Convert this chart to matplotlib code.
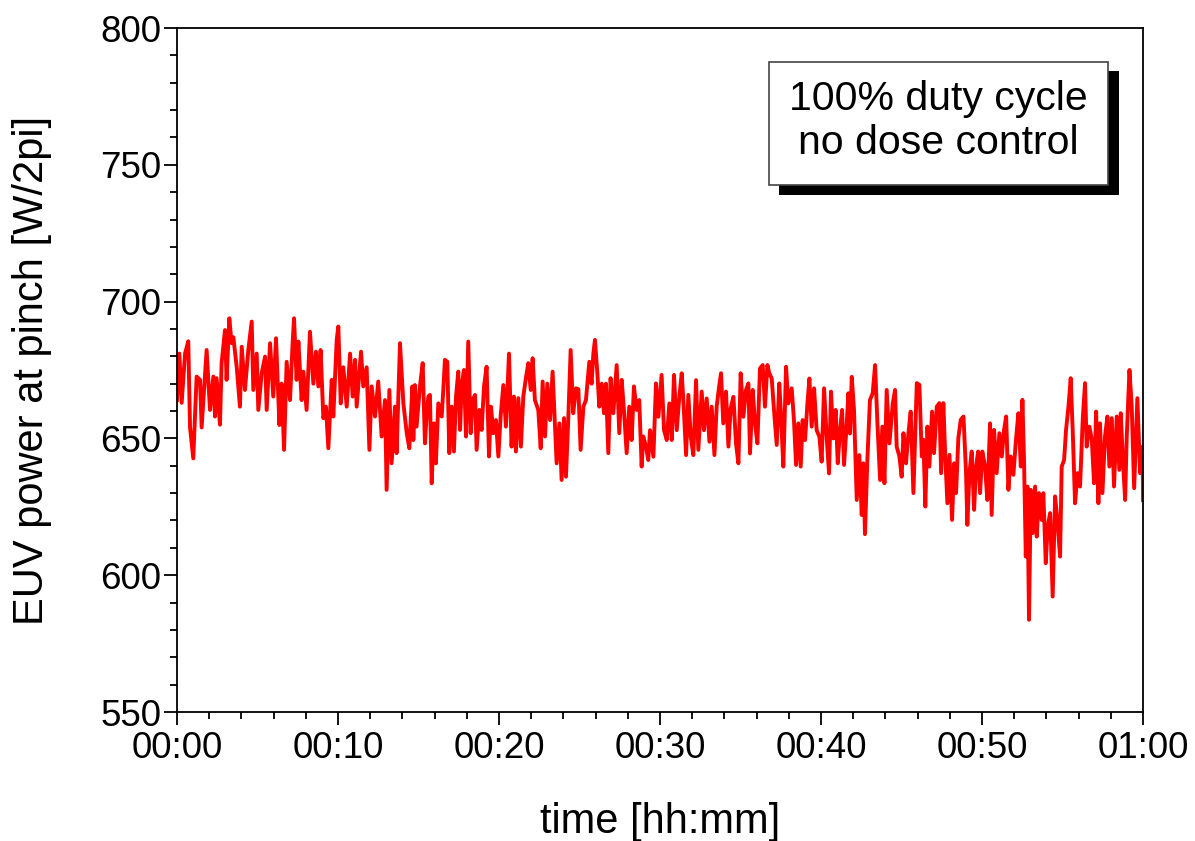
import matplotlib
matplotlib.use("Agg")
import matplotlib.pyplot as plt
from matplotlib.patches import Rectangle
from matplotlib.ticker import MultipleLocator

# ---- data (time in minutes, EUV power in W/2pi) ----
time_min = [
    0.0, 0.145, 0.29, 0.50, 0.70, 0.81, 1.01, 1.22, 1.43, 1.53, 1.84, 2.05, 2.26, 2.36, 2.46,
    2.67, 2.77, 2.98, 3.08, 3.25, 3.39, 3.50, 3.71, 3.91, 4.02, 4.22, 4.43, 4.64, 4.74, 4.95,
    5.05, 5.26, 5.47, 5.57, 5.78, 5.98, 6.15, 6.36, 6.50, 6.65, 6.81, 7.02, 7.18, 7.27, 7.43,
    7.54, 7.74, 7.85, 8.05, 8.26, 8.47, 8.63, 8.78, 8.92, 9.09, 9.25, 9.40, 9.61, 9.71, 9.92,
    10.02, 10.17, 10.33, 10.54, 10.75, 10.91, 11.06, 11.16, 11.43, 11.57, 11.78, 11.95, 12.09,
    12.30, 12.50, 12.71, 12.92, 13.02, 13.19, 13.33, 13.54, 13.64, 13.85, 14.06, 14.27, 14.43,
    14.62, 14.68, 14.78, 14.88, 15.09, 15.26, 15.40, 15.50, 15.61, 15.71, 15.82, 15.96, 16.08,
    16.23, 16.44, 16.54, 16.64, 16.79, 16.91, 17.06, 17.20, 17.33, 17.47, 17.58, 17.68, 17.82,
    17.95, 18.09, 18.24, 18.36, 18.51, 18.61, 18.78, 18.92, 19.07, 19.23, 19.38, 19.50, 19.65,
    19.81, 19.96, 20.10, 20.27, 20.43, 20.62, 20.78, 20.93, 21.05, 21.20, 21.36, 21.51, 21.67,
    21.82, 21.97, 22.09, 22.23, 22.44, 22.59, 22.71, 22.86, 23.00, 23.17, 23.33, 23.48, 23.58,
    23.75, 23.89, 24.04, 24.16, 24.30, 24.45, 24.61, 24.78, 24.93, 25.07, 25.24, 25.40, 25.61,
    25.75, 25.86, 25.96, 26.11, 26.23, 26.38, 26.52, 26.64, 26.79, 26.93, 27.10, 27.31, 27.47,
    27.62, 27.76, 27.93, 28.09, 28.24, 28.38, 28.55, 28.71, 28.86, 28.96, 29.13, 29.27,
    29.38, 29.59, 29.75, 29.90, 30.10, 30.25, 30.42, 30.58, 30.73, 30.87, 31.04, 31.20, 31.35,
    31.45, 31.62, 31.76, 31.91, 32.07, 32.24, 32.38, 32.59, 32.73, 32.90, 33.07, 33.21, 33.38,
    33.52, 33.67, 33.79, 33.93, 34.10, 34.25, 34.39, 34.56, 34.72, 34.87, 35.01, 35.18, 35.34,
    35.49, 35.59, 35.76, 35.90, 36.05, 36.21, 36.38, 36.52, 36.67, 36.79, 36.94, 37.08, 37.25,
    37.41, 37.52, 37.66, 37.83, 37.97, 38.18, 38.32, 38.45, 38.59, 38.74, 38.86, 39.01, 39.15,
    39.28, 39.42, 39.57, 39.73, 39.90, 40.04, 40.19, 40.35, 40.50, 40.62, 40.77, 40.91, 41.04,
    41.18, 41.31, 41.43, 41.60, 41.70, 41.80, 41.91, 42.05, 42.22, 42.38, 42.53, 42.63, 42.73,
    42.88, 43.04, 43.21, 43.36, 43.50, 43.67, 43.81, 43.94, 44.08, 44.25,
    44.46, 44.60, 44.70, 44.87, 45.01, 45.12, 45.28, 45.43, 45.57, 45.74, 45.84, 45.95, 46.11,
    46.26, 46.36, 46.48, 46.61, 46.73, 46.90, 47.02, 47.19, 47.35, 47.46, 47.60, 47.71, 47.85,
    47.98, 48.14, 48.27, 48.39, 48.53, 48.68, 48.85, 49.01, 49.09, 49.22, 49.36, 49.51, 49.63,
    49.76, 49.88, 50.02, 50.19, 50.33, 50.50, 50.60, 50.75, 50.91, 51.08, 51.23, 51.37, 51.50,
    51.64, 51.78, 51.95, 52.11, 52.26, 52.41, 52.51, 52.61, 52.72, 52.82, 52.92, 53.03, 53.15,
    53.30, 53.40, 53.54, 53.71, 53.81, 53.96, 54.08, 54.23, 54.39, 54.54, 54.68, 54.85, 54.95,
    55.10, 55.22, 55.37, 55.51, 55.64, 55.78, 55.93, 56.09, 56.26, 56.40, 56.50, 56.67, 56.82,
    56.96, 57.09, 57.23, 57.33, 57.48, 57.64, 57.79, 57.91, 58.06, 58.20, 58.37, 58.53, 58.62,
    58.74, 58.89, 58.99, 59.16, 59.30, 59.45, 59.65, 59.82, 59.98, 60.0,
]
power = [
    664, 681, 663, 681, 685.5, 654, 642.7, 672.6, 671.4, 654, 682.3, 660.4, 672.6, 658, 672,
    655, 677.5, 689.6, 671.4, 693.9, 684.8, 687, 676, 661.6, 683.5, 667.7, 682.3, 692.7, 667.7, 681,
    660.4, 673.8, 679.9, 660.4, 684.8, 665.3, 686.6, 654.9, 670, 645.8, 678, 664, 684.8, 693.9, 671.4,
    685.4, 664, 674.4, 660.4, 689, 670, 681.7, 669, 682.3, 657.4, 661.6, 646.4, 671.4, 658, 686,
    690.9, 662.8, 676, 661.6, 681, 665.3, 678.7, 661.6, 681.7, 669, 676, 645.8, 669,
    658, 670.8, 650.7, 664, 631.2, 667.7, 640.9, 661.6, 644.6, 684.8, 662.8, 651.9, 646.4,
    669, 649.4, 669.5, 654.3, 669, 677.5, 648.2, 658, 665.3, 665.9, 633.6, 655.5, 640.9,
    662.8, 658, 667.7, 678.7, 678, 644.6, 661.6, 645.2, 665.3, 674.4, 653.1, 669, 675,
    650.7, 685.4, 651.9, 664, 665.9, 645.8, 660.4, 653.1, 669, 676.2, 643.4, 661.6, 651.9,
    656.7, 643.4, 658, 669.5, 654.3, 681, 647, 665.3, 645.2, 664.7, 647, 665.3, 672,
    677.5, 667.7, 679.3, 664, 660.4, 646.4, 670.8, 650.7, 670, 656.7, 674.4, 654.3, 640.9,
    655.5, 634.8, 657.4, 636, 656.7, 682.3, 659.2, 668.3, 668, 645.8, 661.6, 664, 678,
    670, 681, 686, 673.8, 661.6, 670, 659.2, 670, 644.6, 672, 659.2, 676.8, 651.9,
    671.4, 660.4, 644.6, 661.6, 649.4, 669, 660.4, 664, 639.7, 650.7, 647, 642.1,
    653, 643.3, 670.1, 657.9, 673.2, 653, 649.4, 662.8, 649.4, 673.2, 653, 665.2, 673.8,
    664, 643.9, 665.9, 650.6, 643.9, 671.3, 645.8, 667.1, 653, 664.6, 648.8, 661.6, 643.9,
    661.6, 668.9, 673.8, 655.5, 667.1, 647, 661, 665.2, 648.2, 640.9, 673.8, 657.9, 667.7,
    670.1, 644.5, 667.7, 655.5, 648.2, 675.6, 676.8, 661.6, 676.8, 673.8, 671.9, 660.4, 647.6,
    670.1, 657.9, 639.7, 676.2, 662.8, 668.3, 656.7, 640.3, 655.5, 639.7, 656.7, 649.4, 662.2,
    671.9, 654.3, 668.3, 653, 650.6, 641.5, 668.3, 650.6, 637.2, 667.1, 650, 660.4, 640.9,
    653, 660.4, 640.3, 655.5, 666.5, 651.8, 672.5, 660.4, 627.5, 643.9, 622, 640.9, 615,
    642.1, 664, 666.5, 676.8, 656.1, 634.8, 654.3, 633.6, 667.7, 648.2,
    662.9, 667.7, 647, 643.4, 636, 651.9, 640.9, 651.9, 659.8, 630, 649.5, 670.2, 669.6,
    643.4, 649.5, 625.1, 654.3, 639.7, 659.8, 644.6, 661.6, 662.9, 637.3, 662.9, 644.6, 626.3,
    644, 620.2, 640.9, 630, 650.1, 656.8, 658, 637.3, 618.4, 637.3, 645.2, 623.9, 639.7,
    645.2, 630, 645.2, 639.7, 627.5, 655.5, 622, 653.1, 637.3, 651.9, 643.4, 653.1, 658,
    631.2, 643.4, 636.7, 649.5, 659.2, 639.7, 664.1, 642.1, 606.8, 632.4, 583.7, 631.2, 615.4,
    632.4, 614.1, 630, 620.2, 630, 604.4, 617.8, 622.7, 592.2, 628.8, 620.2, 606.8, 639.7,
    642.1, 653.1, 661.6, 672, 651.9, 626.3, 637.3, 632.4, 657.4, 670.2, 647, 654.3, 649.5,
    633.6, 659.8, 626.3, 655.5, 630, 650.7, 658, 639.7, 657.4, 632.4, 658, 638.5, 659.2,
    643.4, 627.5, 650.7, 675, 661.6, 631.8, 664.7, 637.3, 647, 627.5,
]
x_tick_values = [0, 10, 20, 30, 40, 50, 60]
x_tick_labels = ["00:00", "00:10", "00:20", "00:30", "00:40", "00:50", "01:00"]
y_tick_values = [550, 600, 650, 700, 750, 800]
x_label = "time [hh:mm]"
y_label = "EUV power at pinch [W/2pi]"
box_lines = "100% duty cycle\nno dose control"

plt.rcParams['font.family'] = ['Liberation Sans', 'DejaVu Sans']

W, H = 1195, 841
fig = plt.figure(figsize=(W / 100, H / 100), dpi=100)
ax = fig.add_axes([177 / W, 1 - 712 / H, (1143 - 177) / W, (712 - 28) / H])

ax.plot(time_min, power, color="#ff0000", lw=2.8, solid_joinstyle="round")

ax.set_xlim(0, 60)
ax.set_ylim(550, 800)
ax.set_xticks(x_tick_values)
ax.set_xticklabels(x_tick_labels)
ax.set_yticks(y_tick_values)
ax.xaxis.set_minor_locator(MultipleLocator(2))
ax.yaxis.set_minor_locator(MultipleLocator(10))
ax.tick_params(axis="both", which="major", direction="out", length=9.5, width=1.3,
               labelsize=26.5, top=False, right=False)
ax.tick_params(axis="x", which="major", pad=4)
ax.tick_params(axis="y", which="major", pad=2)
ax.tick_params(axis="both", which="minor", direction="out", length=5.2, width=1.3,
               top=False, right=False)
for s in ax.spines.values():
    s.set_linewidth(1.3)

ax.set_xlabel(x_label, fontsize=30, va="center")
ax.xaxis.set_label_coords(0.5, (712 - 822) / 684)
ax.set_ylabel(y_label, fontsize=30, va="center")
ax.yaxis.set_label_coords((32 - 177) / 966, 0.5)

# annotation box with drop shadow (figure pixel coordinates)
def fbox(x0, y0, x1, y1, **kw):
    r = Rectangle((x0 / W, 1 - y1 / H), (x1 - x0) / W, (y1 - y0) / H,
                  transform=fig.transFigure, **kw)
    fig.add_artist(r)

fbox(779, 71, 1119, 195, facecolor="black", edgecolor="none", zorder=5)
fbox(769, 62, 1108, 185, facecolor="white", edgecolor="#444444", lw=1.2, zorder=6)
fig.text(938.5 / W, 1 - 121 / H, box_lines, ha="center", va="center",
         fontsize=29.5, linespacing=1.2, zorder=7)

fig.savefig("out.png", dpi=100)
